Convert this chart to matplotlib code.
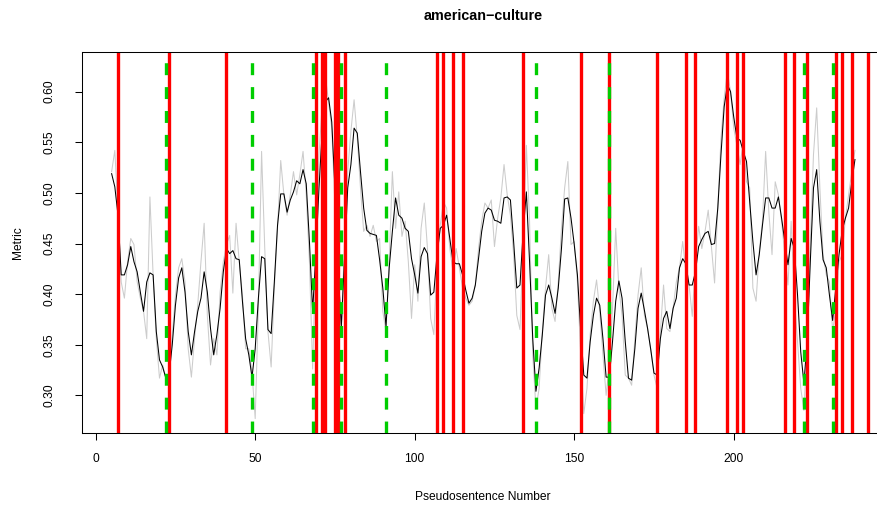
import numpy as np
import matplotlib
matplotlib.use('Agg')
import matplotlib.pyplot as plt
from matplotlib.ticker import FormatStrFormatter

plt.rcParams['font.family'] = ['Liberation Sans', 'DejaVu Sans']
plt.rcParams['lines.scale_dashes'] = False

# Pseudosentence numbers
sentence = np.arange(5, 239)

# smoothed metric (black)
smoothed = [
    0.519, 0.506, 0.478, 0.419, 0.419, 0.429, 0.447, 0.432, 0.422, 0.402,
    0.383, 0.412, 0.421, 0.419, 0.363, 0.335, 0.328, 0.317, 0.320, 0.350,
    0.389, 0.416, 0.426, 0.402, 0.363, 0.340, 0.363, 0.383, 0.396, 0.422,
    0.402, 0.366, 0.340, 0.360, 0.386, 0.422, 0.445, 0.440, 0.443, 0.435,
    0.434, 0.393, 0.356, 0.340, 0.318, 0.346, 0.396, 0.437, 0.435, 0.365,
    0.361, 0.412, 0.468, 0.499, 0.499, 0.481, 0.493, 0.501, 0.512, 0.509,
    0.523, 0.509, 0.452, 0.383, 0.439, 0.505, 0.561, 0.590, 0.594, 0.570,
    0.505, 0.422, 0.368, 0.435, 0.505, 0.528, 0.564, 0.559, 0.521, 0.485,
    0.463, 0.460, 0.459, 0.458, 0.434, 0.406, 0.368, 0.426, 0.462, 0.495,
    0.478, 0.475, 0.465, 0.462, 0.435, 0.419, 0.401, 0.437, 0.446, 0.440,
    0.399, 0.402, 0.439, 0.465, 0.468, 0.478, 0.455, 0.432, 0.430, 0.430,
    0.419, 0.404, 0.391, 0.396, 0.409, 0.435, 0.462, 0.480, 0.485, 0.483,
    0.473, 0.472, 0.470, 0.495, 0.496, 0.493, 0.452, 0.406, 0.409, 0.462,
    0.501, 0.432, 0.356, 0.304, 0.327, 0.360, 0.399, 0.409, 0.396, 0.381,
    0.406, 0.445, 0.494, 0.495, 0.475, 0.449, 0.419, 0.366, 0.320, 0.317,
    0.353, 0.379, 0.396, 0.389, 0.356, 0.318, 0.318, 0.353, 0.393, 0.413,
    0.396, 0.353, 0.317, 0.315, 0.346, 0.386, 0.401, 0.384, 0.366, 0.345,
    0.322, 0.320, 0.356, 0.376, 0.383, 0.366, 0.386, 0.396, 0.426, 0.435,
    0.430, 0.409, 0.409, 0.422, 0.447, 0.454, 0.460, 0.462, 0.449, 0.450,
    0.485, 0.538, 0.585, 0.607, 0.600, 0.575, 0.554, 0.552, 0.541, 0.531,
    0.491, 0.452, 0.419, 0.439, 0.468, 0.495, 0.495, 0.485, 0.485, 0.496,
    0.475, 0.452, 0.429, 0.455, 0.445, 0.399, 0.343, 0.312, 0.353, 0.432,
    0.505, 0.523, 0.472, 0.434, 0.426, 0.399, 0.374, 0.406, 0.439, 0.463,
    0.475, 0.485, 0.511, 0.533,
]

# raw metric (grey)
raw = [
    0.521, 0.542, 0.481, 0.412, 0.396, 0.432, 0.455, 0.449, 0.412, 0.396,
    0.383, 0.356, 0.496, 0.419, 0.356, 0.317, 0.330, 0.317, 0.320, 0.360,
    0.399, 0.426, 0.435, 0.412, 0.346, 0.318, 0.356, 0.390, 0.432, 0.470,
    0.379, 0.330, 0.356, 0.340, 0.402, 0.432, 0.449, 0.458, 0.401, 0.470,
    0.432, 0.399, 0.346, 0.346, 0.323, 0.277, 0.386, 0.541, 0.445, 0.363,
    0.328, 0.406, 0.465, 0.532, 0.498, 0.478, 0.498, 0.521, 0.498, 0.518,
    0.541, 0.498, 0.432, 0.326, 0.439, 0.538, 0.587, 0.615, 0.590, 0.564,
    0.488, 0.406, 0.363, 0.452, 0.521, 0.561, 0.592, 0.554, 0.505, 0.462,
    0.468, 0.457, 0.468, 0.452, 0.455, 0.383, 0.363, 0.432, 0.521, 0.465,
    0.501, 0.457, 0.472, 0.432, 0.376, 0.429, 0.393, 0.465, 0.490, 0.445,
    0.376, 0.360, 0.432, 0.468, 0.491, 0.485, 0.445, 0.422, 0.445, 0.426,
    0.406, 0.396, 0.389, 0.393, 0.409, 0.445, 0.472, 0.490, 0.485, 0.493,
    0.447, 0.475, 0.495, 0.528, 0.498, 0.478, 0.439, 0.379, 0.365, 0.452,
    0.547, 0.472, 0.340, 0.287, 0.307, 0.363, 0.406, 0.439, 0.386, 0.373,
    0.412, 0.465, 0.505, 0.531, 0.449, 0.452, 0.412, 0.343, 0.282, 0.307,
    0.360, 0.393, 0.414, 0.383, 0.340, 0.300, 0.330, 0.386, 0.465, 0.406,
    0.379, 0.320, 0.317, 0.310, 0.356, 0.399, 0.426, 0.379, 0.366, 0.345,
    0.320, 0.307, 0.363, 0.409, 0.366, 0.363, 0.386, 0.412, 0.426, 0.452,
    0.422, 0.409, 0.378, 0.432, 0.467, 0.445, 0.462, 0.483, 0.447, 0.411,
    0.485, 0.554, 0.594, 0.620, 0.600, 0.564, 0.547, 0.528, 0.551, 0.511,
    0.505, 0.406, 0.393, 0.442, 0.472, 0.541, 0.481, 0.439, 0.511, 0.498,
    0.472, 0.439, 0.409, 0.472, 0.396, 0.353, 0.307, 0.285, 0.346, 0.452,
    0.538, 0.584, 0.505, 0.439, 0.419, 0.412, 0.363, 0.386, 0.432, 0.439,
    0.475, 0.498, 0.521, 0.542,
]

# boundary positions
red_bounds = [7, 23, 41, 69, 71, 72, 75, 76, 78, 107, 109, 112, 115, 134,
              152, 161, 176, 185, 188, 198, 201, 203, 216, 219, 223, 232,
              234, 237, 242]
green_bounds = [22, 49, 68, 77, 91, 138, 161, 222, 231]

W, H = 878, 512
fig = plt.figure(figsize=(W / 100, H / 100), dpi=100)
# plot region in pixels: left 82, right 885 (runs off the image), top 52, bottom 433
ax = fig.add_axes([81.9 / W, 1 - 433.3 / H, (884.7 - 81.9) / W, (433.3 - 52) / H])

ax.plot(sentence, raw, color='#CCCCCC', lw=0.75)
ax.plot(sentence, smoothed, color='black', lw=0.75)
for b in red_bounds:
    ax.axvline(b, color='red', lw=2.4, solid_capstyle='butt')
for b in green_bounds:
    ax.axvline(b, color='#00CD00', lw=2.4, linestyle=(0, (8.6, 8.6)),
               dash_capstyle='butt')

ax.set_xlim(-4.32, 247.32)
ax.set_ylim(0.2625, 0.6392)
ax.set_xticks([0, 50, 100, 150, 200])
ax.set_yticks([0.30, 0.35, 0.40, 0.45, 0.50, 0.55, 0.60])
ax.yaxis.set_major_formatter(FormatStrFormatter('%.2f'))

for s in ax.spines.values():
    s.set_linewidth(0.75)
    s.set_color('black')
ax.tick_params(direction='out', length=5.2, width=0.75, labelsize=8.64)
ax.tick_params(axis='x', pad=9)
ax.tick_params(axis='y', pad=14)
plt.setp(ax.get_yticklabels(), rotation=90, va='center')

fig.text(483 / W, 1 - 16 / H, 'american\u2212culture', ha='center', va='center',
         fontsize=10.4, fontweight='bold')
fig.text(483 / W, 1 - 497 / H, 'Pseudosentence Number', ha='center', va='center',
         fontsize=8.64)
fig.text(18 / W, 1 - 243 / H, 'Metric', ha='center', va='center',
         rotation=90, fontsize=8.64)

fig.savefig('out.png', dpi=100)
